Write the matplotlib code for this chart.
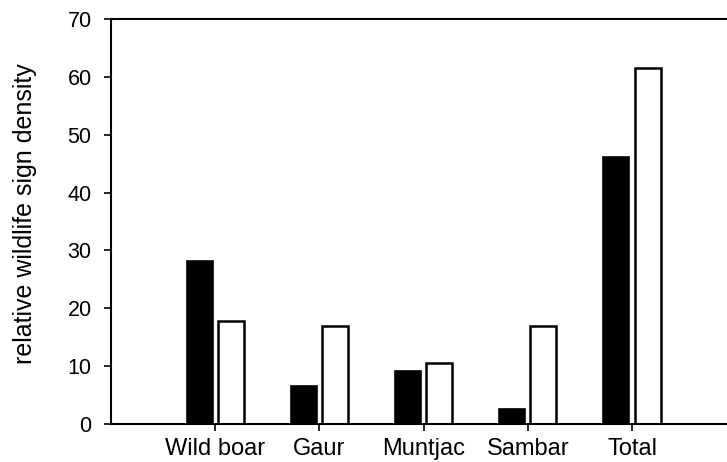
import numpy as np
import matplotlib
matplotlib.use("Agg")
from matplotlib import pyplot as plt

plt.rcParams['font.family'] = ['Liberation Sans', 'DejaVu Sans']

species = ["Wild boar", "Gaur", "Muntjac", "Sambar", "Total"]
black_vals = [28.2, 6.6, 9.2, 2.6, 46.2]
white_vals = [17.8, 16.9, 10.5, 16.9, 61.6]

fig = plt.figure(figsize=(7.27, 4.62), dpi=100)
ax = fig.add_axes([0.1527, 0.0823, 0.860, 0.8766])

x = np.arange(1, len(species) + 1)
w = 0.25
ax.bar(x - 0.15, black_vals, width=w, color='black', edgecolor='black', linewidth=1.2)
ax.bar(x + 0.15, white_vals, width=w, color='white', edgecolor='black', linewidth=1.8)

ax.set_xlim(0, 6)
ax.set_ylim(0, 70)
ax.set_xticks(x)
ax.set_xticklabels(species)
ax.set_yticks(np.arange(0, 71, 10))
ax.tick_params(direction='out', length=5, width=1.2)
ax.tick_params(axis='y', labelsize=15.5, pad=9)
ax.tick_params(axis='x', labelsize=17, pad=5)
for s in ax.spines.values():
    s.set_linewidth(1.5)
ax.set_ylabel('relative wildlife sign density', fontsize=18)
ax.yaxis.set_label_coords(-0.118, 0.52)

fig.savefig("out.png", dpi=100)
